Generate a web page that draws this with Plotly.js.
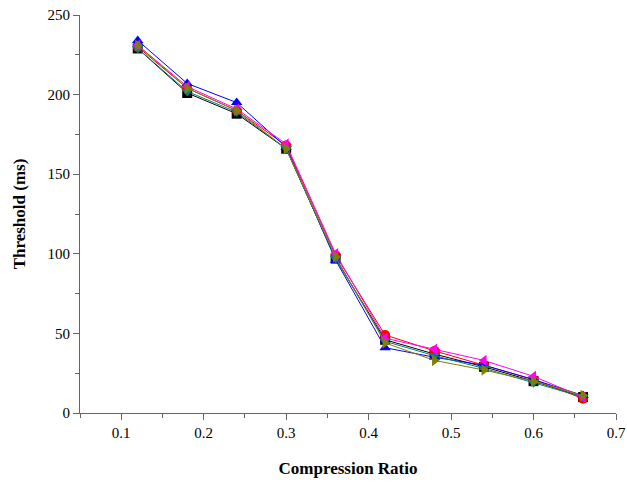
<!DOCTYPE html>
<html><head><meta charset="utf-8">
<script src="https://cdn.plot.ly/plotly-3.0.1.min.js"></script>
<style>html,body{margin:0;padding:0;background:#fff}</style>
</head><body>
<div id="chart" style="width:627px;height:482px"></div>
<script>
const ratios = [0.12, 0.18, 0.24, 0.30, 0.36, 0.42, 0.48, 0.54, 0.60, 0.66];
const seriesBlack   = [229, 201, 188, 166, 97, 46, 37, 29, 20, 10];
const seriesRed     = [230, 204, 190, 168, 99, 49, 39, 30, 21, 9];
const seriesBlue    = [234, 207, 195, 167, 96, 41, 35, 30, 21, 11];
const seriesTeal    = [229, 202, 189, 166, 97, 45, 36, 28, 19, 10];
const seriesMagenta = [231, 205, 191, 169, 100, 47, 40, 33, 23, 10];
const seriesOlive   = [231, 204, 190, 166, 98, 44, 33, 27, 20, 11];
const xTicks = [0.1, 0.2, 0.3, 0.4, 0.5, 0.6, 0.7];
const yTicks = [0, 50, 100, 150, 200, 250];

const defs = [
  [seriesBlack, '#000000', 'square'],
  [seriesRed, '#ff0000', 'circle'],
  [seriesBlue, '#0000ff', 'triangle-up'],
  [seriesTeal, '#008080', 'triangle-down'],
  [seriesMagenta, '#ff00ff', 'triangle-left'],
  [seriesOlive, '#808000', 'triangle-right']
];
const traces = defs.map(([y, c, s]) => ({
  x: ratios, y: y, type: 'scatter', mode: 'lines+markers',
  line: {color: c, width: 1},
  marker: {color: c, symbol: s, size: 10},
  showlegend: false
}));

const tickFont = {family: '"Liberation Serif", serif', size: 15, color: '#000'};
const titleFont = {family: '"Liberation Serif", serif', size: 17, color: '#000', weight: 'bold'};

const layout = {
  width: 627, height: 482,
  margin: {l: 80, r: 11, t: 15, b: 69},
  paper_bgcolor: '#fff', plot_bgcolor: '#fff',
  font: {family: '"Liberation Serif", serif'},
  xaxis: {
    range: [0.05, 0.7], tickvals: xTicks, ticktext: xTicks.map(String),
    showgrid: false, zeroline: false, showline: true, linecolor: '#666', linewidth: 1,
    ticks: 'outside', ticklen: 6, tickcolor: '#666',
    minor: {dtick: 0.05, tick0: 0.05, ticks: 'outside', ticklen: 4, tickcolor: '#666', showgrid: false},
    tickfont: tickFont,
    title: {text: '<b>Compression Ratio</b>', font: titleFont, standoff: 22}
  },
  yaxis: {
    range: [0, 250], tickvals: yTicks, ticktext: yTicks.map(String),
    showgrid: false, zeroline: false, showline: true, linecolor: '#666', linewidth: 1,
    ticks: 'outside', ticklen: 6, tickcolor: '#666',
    minor: {dtick: 25, tick0: 0, ticks: 'outside', ticklen: 4, tickcolor: '#666', showgrid: false},
    tickfont: tickFont,
    title: {text: '<b>Threshold (ms)</b>', font: titleFont, standoff: 17}
  }
};
Plotly.newPlot('chart', traces, layout, {displayModeBar: false, staticPlot: true});
</script>
</body></html>
